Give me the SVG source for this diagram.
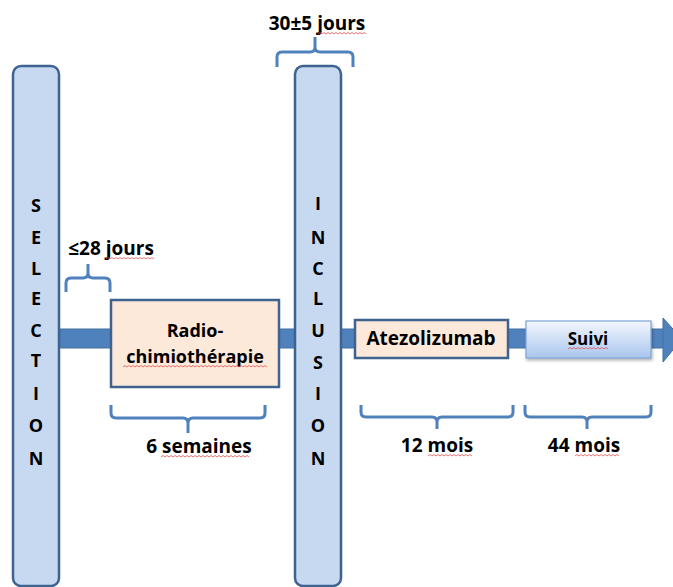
<svg xmlns="http://www.w3.org/2000/svg" width="673" height="587" viewBox="0 0 673 587">
<defs>
<style>
.pillar{fill:#c6d9f1;stroke:#3f6390;stroke-width:2.5}
.box{fill:#fde9d9;stroke:#3f6390;stroke-width:2.5}
.bar{fill:#4f81bd;stroke:#41709f;stroke-width:1}
.brace{fill:none;stroke:#4f81bd;stroke-width:3;stroke-linecap:butt;stroke-linejoin:round}
.t{font-family:"Open Sans","Liberation Sans",sans-serif;font-weight:700;fill:#000;text-anchor:middle}
.letter{font-size:18px}
.lbl{font-size:19px}
.sq{fill:none;stroke:#e05050;stroke-width:0.8}
</style>
<linearGradient id="suiviGrad" x1="0" y1="0" x2="0" y2="1">
<stop offset="0" stop-color="#f3f7fd"/>
<stop offset="1" stop-color="#a9c6ef"/>
</linearGradient>
<filter id="shadow" x="-10%" y="-20%" width="125%" height="160%">
<feDropShadow dx="1" dy="2" stdDeviation="1.5" flood-color="#000" flood-opacity="0.3"/>
</filter>
</defs>

<g id="connectors">
<rect class="bar" x="59" y="329" width="606" height="19"/>
<polygon class="bar" points="663,318 682,339 663,362"/>
</g>

<g id="selection">
<rect class="pillar" x="13" y="66" width="46" height="520" rx="8"/>
<text class="t letter" x="36" y="212">S</text>
<text class="t letter" x="36" y="244">E</text>
<text class="t letter" x="36" y="275">L</text>
<text class="t letter" x="36" y="305">E</text>
<text class="t letter" x="36" y="337">C</text>
<text class="t letter" x="36" y="367">T</text>
<text class="t letter" x="36" y="400">I</text>
<text class="t letter" x="36" y="432">O</text>
<text class="t letter" x="36" y="465">N</text>
</g>

<g id="inclusion">
<rect class="pillar" x="295" y="66" width="46" height="520" rx="8"/>
<text class="t letter" x="318" y="210">I</text>
<text class="t letter" x="318" y="244">N</text>
<text class="t letter" x="318" y="275">C</text>
<text class="t letter" x="318" y="305">L</text>
<text class="t letter" x="318" y="337">U</text>
<text class="t letter" x="318" y="369">S</text>
<text class="t letter" x="318" y="400">I</text>
<text class="t letter" x="318" y="432">O</text>
<text class="t letter" x="318" y="465">N</text>
</g>

<g id="radiochimio">
<rect class="box" x="111" y="300" width="168" height="87"/>
<text class="t" style="font-size:18px" x="195" y="337">Radio-</text>
<text class="t" style="font-size:18px" x="195" y="363">chimiothérapie</text>
<path class="sq" d="M123,367 l2,-1.5 l2,1.5 l2,-1.5 l2,1.5 l2,-1.5 l2,1.5 l2,-1.5 l2,1.5 l2,-1.5 l2,1.5 l2,-1.5 l2,1.5 l2,-1.5 l2,1.5 l2,-1.5 l2,1.5 l2,-1.5 l2,1.5 l2,-1.5 l2,1.5 l2,-1.5 l2,1.5 l2,-1.5 l2,1.5 l2,-1.5 l2,1.5 l2,-1.5 l2,1.5 l2,-1.5 l2,1.5 l2,-1.5 l2,1.5 l2,-1.5 l2,1.5 l2,-1.5 l2,1.5 l2,-1.5 l2,1.5 l2,-1.5 l2,1.5 l2,-1.5 l2,1.5 l2,-1.5 l2,1.5 l2,-1.5 l2,1.5 l2,-1.5 l2,1.5 l2,-1.5 l2,1.5 l2,-1.5 l2,1.5 l2,-1.5 l2,1.5 l2,-1.5 l2,1.5 l2,-1.5 l2,1.5 l2,-1.5 l2,1.5 l2,-1.5 l2,1.5 l2,-1.5 l2,1.5 l2,-1.5 l2,1.5 l2,-1.5 l2,1.5 l2,-1.5 l2,1.5 l2,-1.5 l2,1.5"/>
</g>

<g id="atezolizumab">
<rect class="box" x="355" y="320" width="153" height="38"/>
<text class="t lbl" x="431" y="345">Atezolizumab</text>
</g>

<g id="suivi">
<rect x="526" y="321" width="125" height="37" fill="url(#suiviGrad)" stroke="#7ea3d6" stroke-width="1.2" filter="url(#shadow)"/>
<text class="t" style="font-size:17px" x="588" y="345">Suivi</text>
<path class="sq" d="M568,349 l2,-1.5 l2,1.5 l2,-1.5 l2,1.5 l2,-1.5 l2,1.5 l2,-1.5 l2,1.5 l2,-1.5 l2,1.5 l2,-1.5 l2,1.5 l2,-1.5 l2,1.5 l2,-1.5 l2,1.5 l2,-1.5 l2,1.5 l2,-1.5 l2,1.5"/>
</g>

<g id="brace-28jours">
<path class="brace" d="M66,292 V283 Q66,278 71,278 H83 Q88,278 88,273 V264 M88,273 Q88,278 93,278 H105 Q110,278 110,283 V292"/>
<text class="t lbl" x="111" y="255">≤28 jours</text>
<path class="sq" d="M106,259 l2,-1.5 l2,1.5 l2,-1.5 l2,1.5 l2,-1.5 l2,1.5 l2,-1.5 l2,1.5 l2,-1.5 l2,1.5 l2,-1.5 l2,1.5 l2,-1.5 l2,1.5 l2,-1.5 l2,1.5 l2,-1.5 l2,1.5 l2,-1.5 l2,1.5 l2,-1.5 l2,1.5 l2,-1.5 l2,1.5"/>
</g>

<g id="brace-30jours">
<path class="brace" d="M277,67 V57 Q277,52 282,52 H310 Q315,52 315,47 V37 M315,47 Q315,52 320,52 H348 Q353,52 353,57 V67"/>
<text class="t lbl" x="317" y="30">30±5 jours</text>
<path class="sq" d="M318,34 l2,-1.5 l2,1.5 l2,-1.5 l2,1.5 l2,-1.5 l2,1.5 l2,-1.5 l2,1.5 l2,-1.5 l2,1.5 l2,-1.5 l2,1.5 l2,-1.5 l2,1.5 l2,-1.5 l2,1.5 l2,-1.5 l2,1.5 l2,-1.5 l2,1.5 l2,-1.5 l2,1.5 l2,-1.5 l2,1.5"/>
</g>

<g id="brace-6semaines">
<path class="brace" d="M111,405 V413 Q111,418 116,418 H183 Q188,418 188,423 V433 M188,423 Q188,418 193,418 H260 Q265,418 265,413 V405"/>
<text class="t lbl" x="199" y="453">6 semaines</text>
<path class="sq" d="M161,457 l2,-1.5 l2,1.5 l2,-1.5 l2,1.5 l2,-1.5 l2,1.5 l2,-1.5 l2,1.5 l2,-1.5 l2,1.5 l2,-1.5 l2,1.5 l2,-1.5 l2,1.5 l2,-1.5 l2,1.5 l2,-1.5 l2,1.5 l2,-1.5 l2,1.5 l2,-1.5 l2,1.5 l2,-1.5 l2,1.5 l2,-1.5 l2,1.5 l2,-1.5 l2,1.5 l2,-1.5 l2,1.5 l2,-1.5 l2,1.5 l2,-1.5 l2,1.5 l2,-1.5 l2,1.5 l2,-1.5 l2,1.5 l2,-1.5 l2,1.5 l2,-1.5 l2,1.5 l2,-1.5 l2,1.5"/>
</g>

<g id="brace-12mois">
<path class="brace" d="M361,405 V412 Q361,417 366,417 H432 Q437,417 437,422 V429 M437,422 Q437,417 442,417 H508 Q513,417 513,412 V405"/>
<text class="t lbl" x="437" y="452">12 mois</text>
<path class="sq" d="M428,456 l2,-1.5 l2,1.5 l2,-1.5 l2,1.5 l2,-1.5 l2,1.5 l2,-1.5 l2,1.5 l2,-1.5 l2,1.5 l2,-1.5 l2,1.5 l2,-1.5 l2,1.5 l2,-1.5 l2,1.5 l2,-1.5 l2,1.5 l2,-1.5 l2,1.5 l2,-1.5 l2,1.5"/>
</g>

<g id="brace-44mois">
<path class="brace" d="M525,405 V412 Q525,417 530,417 H582 Q587,417 587,422 V429 M587,422 Q587,417 592,417 H646 Q651,417 651,412 V405"/>
<text class="t lbl" x="584" y="452">44 mois</text>
<path class="sq" d="M575,456 l2,-1.5 l2,1.5 l2,-1.5 l2,1.5 l2,-1.5 l2,1.5 l2,-1.5 l2,1.5 l2,-1.5 l2,1.5 l2,-1.5 l2,1.5 l2,-1.5 l2,1.5 l2,-1.5 l2,1.5 l2,-1.5 l2,1.5 l2,-1.5 l2,1.5 l2,-1.5 l2,1.5"/>
</g>
</svg>
